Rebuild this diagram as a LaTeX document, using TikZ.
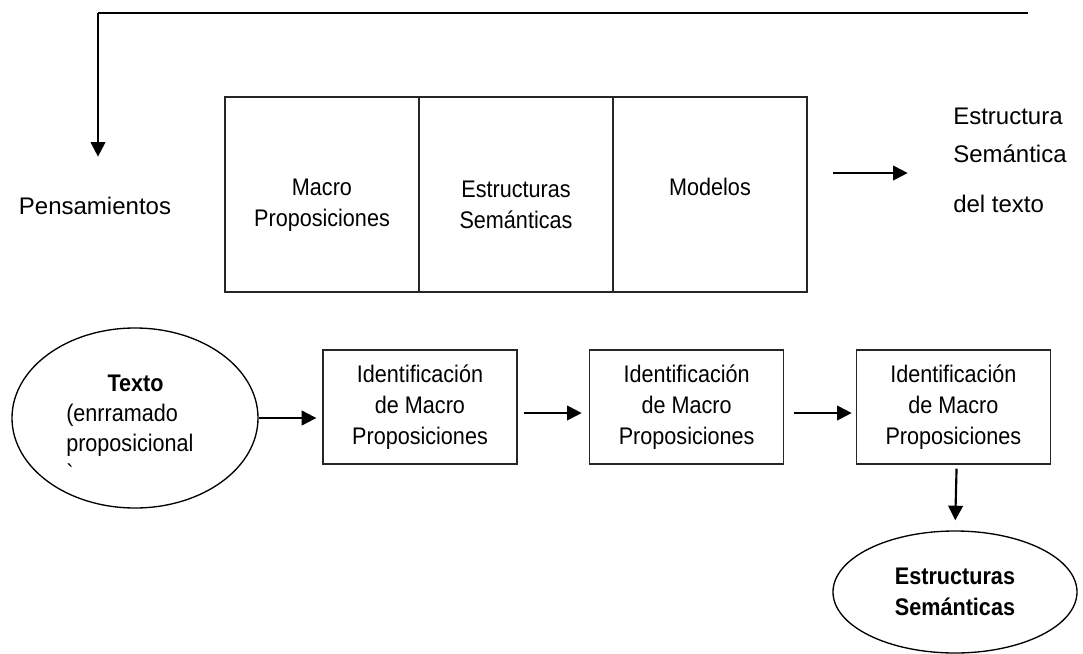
\documentclass[tikz,border=0pt]{standalone}
\usepackage{fontspec}
\setmainfont{Liberation Sans}
\newfontfamily\narrowfont{Liberation Sans}[FakeStretch=0.9]
\usetikzlibrary{arrows.meta, positioning, shapes.geometric}

\tikzset{
  macrocell/.style={draw=black!85, line width=1pt, minimum width=145.5pt, minimum height=146.25pt, inner sep=0pt},
  idbox/.style={draw=black!85, line width=1pt, minimum width=145.5pt, minimum height=85.5pt, inner sep=0pt, align=center, font=\narrowfont\fontsize{18}{23}\selectfont},
  oval/.style={draw, ellipse, line width=1pt, inner sep=0pt},
  txt/.style={inner sep=0pt, font=\fontsize{18}{23}\selectfont},
  ntxt/.style={inner sep=0pt, align=center, font=\narrowfont\fontsize{18}{23}\selectfont},
  arr/.style={-{Triangle[length=11pt,width=11pt]}, line width=1.6pt},
}

\begin{document}
\begin{tikzpicture}[x=0.75pt, y=-0.75pt, on grid, shorten >=1pt, node distance=145.5pt]
  \useasboundingbox (0,0) rectangle (1083,654);

  % upper part
  \coordinate (tl) at (98,13);
  \coordinate (tr) at (1029,13);
  \coordinate (tip) at (98,158);
  \node[txt, anchor=base] (pen) at (95,214) {Pensamientos};

  \node[macrocell] (c1) at (322,194.5) {};
  \node[macrocell] (c2) [right=of c1] {};
  \node[macrocell] (c3) [right=of c2] {};
  \node[ntxt] (t1) at ([yshift=-7.9pt]c1) {Macro\\Proposiciones};
  \node[ntxt] (t2) at ([yshift=-7.9pt]c2) {Estructuras\\Semánticas};
  \node[ntxt] (t3) at ([yshift=5.6pt]c3) {Modelos};

  \coordinate (a1) at (833,173);
  \coordinate (a2) at (909,173);
  \node[txt, align=left, anchor=north west, font=\fontsize{18}{28}\selectfont] (est) at (953,108)
    {Estructura\\Semántica\\[10pt]del texto};

  \draw[line width=1.2pt] (tl) -- (tr);
  \draw[arr] (tl) -- (tip);
  \draw[arr] (a1) -- (a2);

  % lower part
  \node[oval, minimum width=184.5pt, minimum height=135pt] (tx) at (135,418) {};
  \node[ntxt, align=left, anchor=north west, font=\narrowfont\fontsize{18}{22.5}\selectfont] (txl) at (66,374.5)
    {\hspace*{31pt}\textbf{Texto}\\(enrramado\\proposicional\\\textasciigrave};
  \node[idbox] (b1) at (420,407) {Identificación\\de Macro\\Proposiciones};
  \node[idbox] (b2) [right=200pt of b1] {Identificación\\de Macro\\Proposiciones};
  \node[idbox] (b3) [right=200pt of b2] {Identificación\\de Macro\\Proposiciones};
  \node[oval, minimum width=183pt, minimum height=91.5pt, align=center, font=\narrowfont\bfseries\fontsize{18}{23}\selectfont] (es) at (955,592)
    {Estructuras\\Semánticas};

  \draw[arr, shorten >=4.5pt] (tx.east) -- (tx.east -| b1.west);
  \draw[arr, shorten <=4.5pt, shorten >=5.5pt] ([yshift=-4.5pt]b1.east) -- ([yshift=-4.5pt]b1.east -| b2.west);
  \draw[arr, shorten <=7pt, shorten >=3pt] ([yshift=-4.5pt]b2.east) -- ([yshift=-4.5pt]b2.east -| b3.west);
  \draw[arr, shorten <=3pt, shorten >=7.5pt] ([xshift=2.5pt]b3.south) -- (es.north);
\end{tikzpicture}
\end{document}
